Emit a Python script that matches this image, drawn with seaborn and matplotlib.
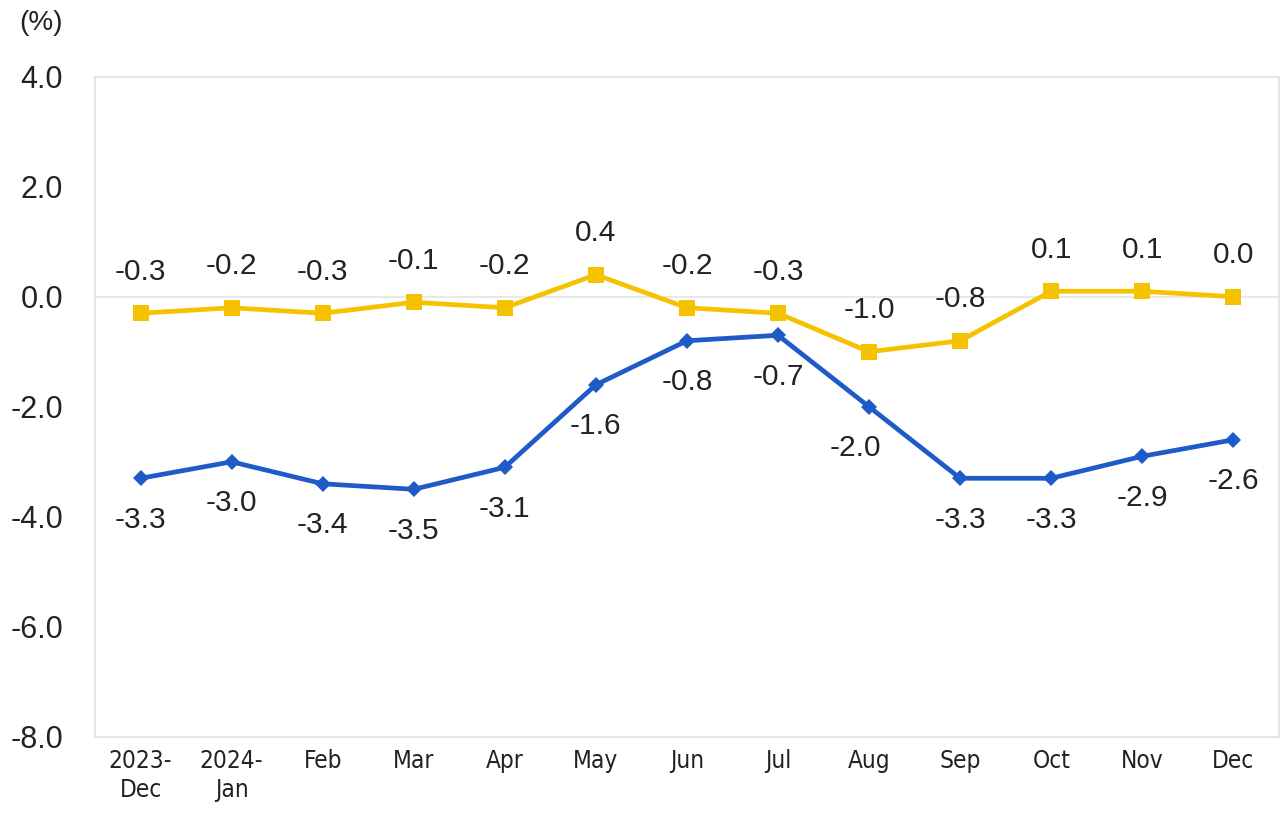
import matplotlib
matplotlib.use("Agg")
import matplotlib.pyplot as plt
from matplotlib import font_manager
import seaborn as sns
import pandas as pd
import os

categories = ["2023-\nDec", "2024-\nJan", "Feb", "Mar", "Apr", "May", "Jun",
              "Jul", "Aug", "Sep", "Oct", "Nov", "Dec"]
yellow_vals = [-0.3, -0.2, -0.3, -0.1, -0.2, 0.4, -0.2, -0.3, -1.0, -0.8, 0.1, 0.1, 0.0]
blue_vals = [-3.3, -3.0, -3.4, -3.5, -3.1, -1.6, -0.8, -0.7, -2.0, -3.3, -3.3, -2.9, -2.6]
yticks = [-8.0, -6.0, -4.0, -2.0, 0.0, 2.0, 4.0]

sns.set_theme(style="white")
plt.rcParams['font.family'] = ['Liberation Sans', 'DejaVu Sans']

# find a narrow font for the x tick labels
narrow_file = None
cands = font_manager.findSystemFonts()
for pref in ["LiberationSansNarrow-Regular", "DejaVuSansCondensed.ttf"]:
    for f in cands:
        if pref in os.path.basename(f):
            narrow_file = f
            break
    if narrow_file:
        break
if narrow_file:
    size = 20 if "Liberation" in narrow_file else 17.5
    xfont = font_manager.FontProperties(fname=narrow_file, size=size)
else:
    xfont = font_manager.FontProperties(family="Liberation Sans", size=17)

YELLOW = "#F5C200"
BLUE = "#1E5BC8"

fig = plt.figure(figsize=(12.84, 8.16), dpi=100)
ax = fig.add_axes([0.074, 0.097, 0.922, 0.809])

idx = list(range(len(categories)))
df_y = pd.DataFrame({"x": idx, "v": yellow_vals})
df_b = pd.DataFrame({"x": idx, "v": blue_vals})

ax.axhline(0, color="#e4e4e4", lw=1.2, zorder=0)

sns.lineplot(data=df_y, x="x", y="v", ax=ax, color=YELLOW, lw=3.4,
             marker="s", markersize=11, markeredgewidth=0, zorder=3)
sns.lineplot(data=df_b, x="x", y="v", ax=ax, color=BLUE, lw=3.4,
             marker="D", markersize=8, markeredgewidth=0, zorder=3)

lab_kw = dict(fontsize=21.5, color="#222222", ha="center", va="center")
for i, v in enumerate(yellow_vals):
    ax.annotate(f"{v:.1f}", (i, v), xytext=(0, 30), textcoords="offset points", **lab_kw)
for i, v in enumerate(blue_vals):
    off = (0, -30)
    if categories[i] == "Aug":
        off = (-10, -30)
    ax.annotate(f"{v:.1f}", (i, v), xytext=off, textcoords="offset points", **lab_kw)

ax.set_xlim(-0.5, len(categories) - 0.5)
ax.set_ylim(-8, 4)
ax.set_yticks(yticks)
ax.set_yticklabels([f"{t:.1f}" for t in yticks], fontsize=22, color="#222222")
ax.set_xticks(idx)
ax.set_xticklabels(categories, color="#222222", fontproperties=xfont,
                   linespacing=1.25, va="top")
ax.tick_params(axis="both", length=0)
ax.tick_params(axis="x", pad=9)
ax.tick_params(axis="y", pad=23)
ax.set_xlabel("")
ax.set_ylabel("")
for s in ax.spines.values():
    s.set_color("#e0e0e0")
    s.set_linewidth(1.2)

fig.text(0.032, 0.972, "(%)", fontsize=20, color="#222222", ha="center", va="center")

fig.savefig("out.png", dpi=100)
